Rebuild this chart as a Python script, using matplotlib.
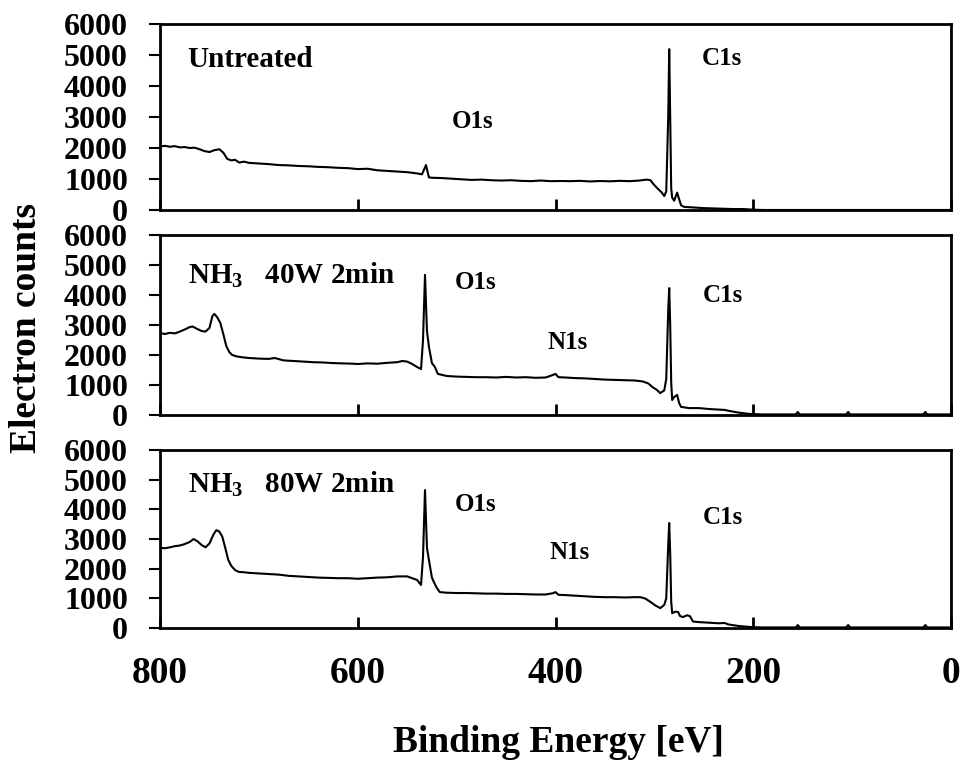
import matplotlib
matplotlib.use("Agg")
import matplotlib.pyplot as plt

plt.rcParams['font.family'] = ['Liberation Serif', 'DejaVu Serif']
plt.rcParams['font.weight'] = 'bold'
plt.rcParams['mathtext.fontset'] = 'custom'
plt.rcParams['mathtext.rm'] = 'Liberation Serif:bold'
plt.rcParams['mathtext.bf'] = 'Liberation Serif:bold'

# ---- data (binding energy eV, counts) ----
e_untreated = [800, 795, 790, 785, 780, 775, 770, 765, 760, 755, 750, 745, 740, 736, 732, 728,
               724, 720, 715, 710, 700, 690, 680, 670, 660, 650, 640, 630, 620, 610, 600, 590,
               580, 570, 560, 550, 540, 535, 531, 528, 525, 515, 505, 495, 485, 475, 465, 455,
               445, 435, 425, 415, 405, 395, 385, 375, 365, 355, 345, 335, 325, 315, 308, 304,
               300, 297, 293, 290, 288, 286, 285, 284, 283, 282, 280, 277, 275, 273, 270, 260,
               250, 240, 230, 220, 210, 200, 190, 150, 100, 50, 0]
c_untreated = [2050, 2070, 2040, 2060, 2020, 2030, 2000, 2010, 1960, 1900, 1870, 1930, 1960, 1850, 1650, 1600,
               1620, 1530, 1560, 1520, 1500, 1480, 1450, 1440, 1420, 1410, 1390, 1380, 1360, 1350, 1320, 1330,
               1280, 1260, 1240, 1220, 1180, 1150, 1450, 1050, 1040, 1030, 1010, 990, 970, 980, 960, 950,
               960, 940, 930, 950, 930, 935, 930, 940, 920, 935, 925, 940, 930, 950, 980, 960,
               800, 700, 580, 450, 600, 3000, 5190, 3000, 700, 400, 300, 560, 350, 150, 100, 80,
               60, 50, 40, 30, 30, 10, 0, 0, 0, 0, 0]

e_40w = [800, 795, 790, 785, 780, 775, 770, 767, 763, 758, 754, 750, 747, 745, 742, 739,
         736, 733, 730, 727, 722, 716, 710, 700, 690, 684, 675, 665, 655, 645, 635, 625,
         615, 605, 600, 590, 580, 570, 560, 555, 550, 545, 540, 536, 534, 532, 530, 528,
         525, 522, 519, 510, 500, 490, 480, 470, 460, 450, 440, 430, 420, 410, 403, 400,
         397, 390, 380, 370, 360, 350, 340, 330, 320, 312, 306, 302, 298, 294, 290, 288,
         286, 285, 284, 283, 282, 280, 277, 275, 273, 265, 255, 245, 235, 229, 225, 215,
         205, 200, 190, 170, 157, 155, 153, 120, 106, 104, 102, 60, 28, 26, 24, 0]
c_40w = [2730, 2700, 2740, 2720, 2780, 2850, 2930, 2950, 2880, 2800, 2780, 2900, 3300, 3370, 3250, 3070,
         2700, 2300, 2100, 2000, 1950, 1920, 1900, 1880, 1870, 1900, 1820, 1800, 1780, 1760, 1750, 1730,
         1720, 1710, 1700, 1720, 1710, 1740, 1760, 1800, 1780, 1700, 1600, 1530, 2500, 4670, 2800, 2270,
         1730, 1600, 1370, 1300, 1280, 1270, 1260, 1260, 1250, 1270, 1250, 1260, 1240, 1250, 1330, 1370,
         1260, 1250, 1230, 1220, 1200, 1180, 1170, 1160, 1150, 1120, 1050, 930, 850, 730, 820, 1200,
         3500, 4230, 3000, 1100, 500, 600, 670, 400, 270, 230, 230, 200, 180, 170, 140, 80,
         40, 30, 20, 20, 20, 100, 20, 20, 20, 100, 20, 20, 20, 100, 20, 20]

e_80w = [800, 795, 790, 785, 780, 775, 770, 766, 762, 758, 754, 750, 746, 743, 740, 737,
         734, 731, 728, 724, 720, 715, 710, 700, 690, 680, 670, 660, 650, 640, 630, 620,
         610, 600, 590, 580, 570, 560, 550, 545, 540, 536, 534, 532, 530, 528, 525, 523,
         520, 517, 510, 500, 490, 480, 470, 460, 450, 440, 430, 420, 410, 403, 400, 397,
         390, 380, 370, 360, 350, 340, 330, 320, 314, 309, 304, 299, 294, 290, 288, 286,
         285, 284, 283, 282, 279, 276, 274, 271, 267, 264, 261, 255, 245, 235, 229, 225,
         215, 205, 200, 190, 170, 157, 155, 153, 120, 106, 104, 102, 60, 28, 26, 24, 0]
c_80w = [2700, 2690, 2720, 2760, 2780, 2830, 2900, 3000, 2920, 2800, 2720, 2850, 3150, 3300, 3250, 3080,
         2700, 2300, 2100, 1950, 1890, 1880, 1860, 1840, 1820, 1800, 1760, 1740, 1720, 1700, 1690, 1680,
         1680, 1660, 1680, 1700, 1710, 1740, 1740, 1680, 1620, 1450, 2400, 4650, 2700, 2290, 1700, 1550,
         1350, 1210, 1190, 1180, 1180, 1170, 1160, 1160, 1150, 1150, 1140, 1130, 1130, 1170, 1210, 1120,
         1110, 1090, 1070, 1050, 1040, 1040, 1030, 1040, 1040, 990, 880, 760, 670, 780, 1000, 2800,
         3540, 2500, 900, 500, 550, 540, 400, 370, 430, 400, 220, 200, 180, 160, 170, 120,
         70, 40, 30, 20, 20, 20, 100, 20, 20, 20, 100, 20, 20, 20, 100, 20, 20]

panel_titles = ['Untreated', 'NH$_3$   40W 2min', 'NH$_3$   80W 2min']
peak_labels = [
    [('O1s', 505, 2840), ('C1s', 252, 4900)],
    [('O1s', 502, 4430), ('N1s', 408, 2400), ('C1s', 251, 4000)],
    [('O1s', 502, 4150), ('N1s', 406, 2560), ('C1s', 251, 3740)],
]
title_y = [4840, 4670, 4850]

x_ticks = [800, 600, 400, 200, 0]
y_ticks = [0, 1000, 2000, 3000, 4000, 5000, 6000]

fig = plt.figure(figsize=(9.61, 7.63), dpi=100)
boxes = [[0.1665, 0.7248, 0.8231, 0.2437],
         [0.1665, 0.4561, 0.8231, 0.2359],
         [0.1665, 0.1769, 0.8231, 0.2333]]
series = [(e_untreated, c_untreated), (e_40w, c_40w), (e_80w, c_80w)]

for i, (box, (ex, cy)) in enumerate(zip(boxes, series)):
    ax = fig.add_axes(box)
    ax.plot(ex, cy, color='black', lw=1.5)
    ax.set_xlim(800, 0)
    ax.set_ylim(0, 6000)
    ax.set_xticks(x_ticks)
    ax.set_yticks(y_ticks)
    for s in ax.spines.values():
        s.set_linewidth(2)
    ax.tick_params(axis='x', direction='in', length=8, width=2, pad=20, labelsize=27)
    ax.tick_params(axis='y', direction='out', length=8, width=1.5, pad=15, labelsize=23)
    if i < 2:
        ax.tick_params(axis='x', labelbottom=False)
    ax.text(772, title_y[i], panel_titles[i], fontsize=21, fontweight='bold',
            ha='left', va='center')
    for lab, lx, ly in peak_labels[i]:
        ax.text(lx, ly, lab, fontsize=18, fontweight='bold', ha='left', va='center')

fig.text(0.028, 0.570, 'Electron counts', rotation=90, fontsize=27,
         fontweight='bold', ha='center', va='center')
fig.text(0.581, 0.027, 'Binding Energy [eV]', fontsize=27,
         fontweight='bold', ha='center', va='center')

fig.savefig('out.png', dpi=100)
